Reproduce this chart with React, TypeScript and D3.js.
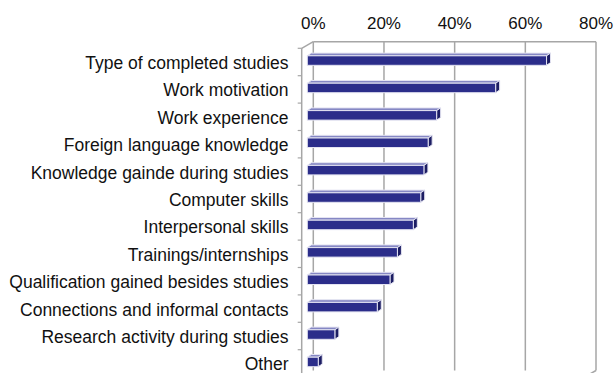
import React from "react";
import * as d3 from "d3";

const categories = [
  "Type of completed studies",
  "Work motivation",
  "Work experience",
  "Foreign language knowledge",
  "Knowledge gainde during studies",
  "Computer skills",
  "Interpersonal skills",
  "Trainings/internships",
  "Qualification gained besides studies",
  "Connections and informal contacts",
  "Research activity during studies",
  "Other",
];
const values = [67.7, 53.3, 36.6, 34.2, 33.0, 32.1, 30.0, 25.5, 23.4, 19.8, 7.8, 3.1];
const ticks = [0, 20, 40, 60, 80];

const W = 614;
const H = 373;

export default function App() {
  // back wall scale
  const xBack = d3.scaleLinear().domain([0, 80]).range([313.3, 596]);
  // 3D floor offset (back -> front)
  const DX = -11.6;
  const DY = 6.6;
  const backTop = 41.7;
  const step = 27.4;
  const frontTop = backTop + DY;
  const yFront = d3
    .scaleBand<string>()
    .domain(categories)
    .range([frontTop, frontTop + step * categories.length])
    .paddingInner(0)
    .paddingOuter(0);
  const backBottom = backTop + step * categories.length;

  const barShiftX = -6;
  const barFaceTop = 7.5;
  const barH = 9.5;
  const bdx = 4;
  const bdy = -2.7;

  const grid = "#a6a6a6";
  const navy = "#2b2d8a";
  const edge = "#e4e4f2";

  return (
    <svg
      width={W}
      height={H}
      style={{ position: "fixed", left: 0, top: 0, background: "#fff" }}
      fontFamily="'Liberation Sans', Arial, sans-serif"
    >
      {ticks.map((t) => (
        <line
          key={"g" + t}
          x1={xBack(t)}
          x2={xBack(t)}
          y1={backTop}
          y2={backBottom}
          stroke={grid}
          strokeWidth={1.5}
        />
      ))}
      <line x1={xBack(0)} x2={xBack(80)} y1={backTop} y2={backTop} stroke={grid} strokeWidth={1.5} />
      <line x1={xBack(0)} y1={backTop} x2={xBack(0) + DX} y2={backTop + DY} stroke={grid} strokeWidth={1.5} />
      <line
        x1={xBack(0) + DX}
        x2={xBack(0) + DX}
        y1={backTop + DY}
        y2={backBottom + DY}
        stroke={grid}
        strokeWidth={1.5}
      />
      <line x1={xBack(80)} y1={backBottom} x2={xBack(80) + DX} y2={backBottom + DY} stroke={grid} strokeWidth={1.5} />
      {d3.range(categories.length + 1).map((i) => (
        <line
          key={"t" + i}
          x1={xBack(0) + DX - 4}
          x2={xBack(0) + DX}
          y1={frontTop + i * step}
          y2={frontTop + i * step}
          stroke={grid}
          strokeWidth={1.2}
        />
      ))}
      {categories.map((c, i) => {
        const x0 = xBack(0) + barShiftX;
        const x1 = xBack(values[i]) + barShiftX;
        const y0 = (yFront(c) as number) + barFaceTop;
        const y1 = y0 + barH;
        const top = `M${x0},${y0} L${x0 + bdx},${y0 + bdy} L${x1 + bdx},${y0 + bdy} L${x1},${y0} Z`;
        const side = `M${x1},${y0} L${x1 + bdx},${y0 + bdy} L${x1 + bdx},${y1 + bdy} L${x1},${y1} Z`;
        return (
          <g key={c}>
            <path d={top} fill="#8587c4" stroke={edge} strokeWidth={1} />
            <path d={side} fill="#1c1d63" stroke={edge} strokeWidth={1} />
            <rect x={x0} y={y0} width={x1 - x0} height={barH} fill={navy} stroke={edge} strokeWidth={1} />
          </g>
        );
      })}
      {ticks.map((t) => (
        <text key={"l" + t} x={xBack(t)} y={29.3} textAnchor="middle" fontSize={17} fill="#111">
          {t + "%"}
        </text>
      ))}
      {categories.map((c) => (
        <text
          key={"c" + c}
          x={288.5}
          y={(yFront(c) as number) + yFront.bandwidth() / 2 + 7}
          textAnchor="end"
          fontSize={17.5}
          fill="#111"
        >
          {c}
        </text>
      ))}
    </svg>
  );
}
